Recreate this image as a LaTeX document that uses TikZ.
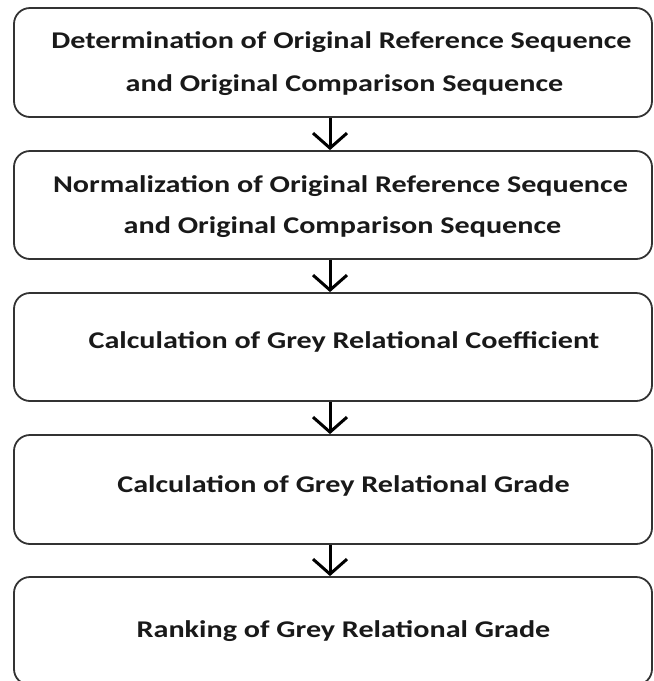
\documentclass[tikz,border=0pt]{standalone}
\usepackage{fontspec}
\setmainfont{Carlito}
\usetikzlibrary{arrows.meta}
\newcommand{\wide}[1]{\scalebox{1.256}[1]{#1}}
\begin{document}
\begin{tikzpicture}[x=1pt,y=-1pt,
  box/.style={draw=black!80, line width=1.8pt, rounded corners=16pt, minimum width=638pt, inner sep=0pt},
  lbl/.style={anchor=base, inner sep=0pt, font=\bfseries\fontsize{24}{28}\selectfont, text=black!90},
  arr/.style={draw=black, line width=3pt, -{Straight Barb[length=15pt,width=34pt,line width=3pt]}}]
\useasboundingbox (0,0) rectangle (654,681);
\node[box, minimum height=109pt] (b1) at (333,62.5) {};
\node[box, minimum height=108pt] (b2) at (333,205) {};
\node[box, minimum height=108pt] (b3) at (333,347) {};
\node[box, minimum height=109pt] (b4) at (333,489.5) {};
\node[box, minimum height=108pt] (b5) at (333,631) {};
\node[lbl] (t1a) at (341.5,48) {\wide{Determination of Original Reference Sequence}};
\node[lbl] (t1b) at (344.5,91) {\wide{and Original Comparison Sequence}};
\node[lbl] (t2a) at (340.5,192) {\wide{Normalization of Original Reference Sequence}};
\node[lbl] (t2b) at (342.5,233) {\wide{and Original Comparison Sequence}};
\node[lbl] (t3) at (344,348) {\wide{Calculation of Grey Relational Coefficient}};
\node[lbl] (t4) at (343.5,492) {\wide{Calculation of Grey Relational Grade}};
\node[lbl] (t5) at (343.5,637) {\wide{Ranking of Grey Relational Grade}};
\draw[arr] ([xshift=-3pt]b1.south) -- ([xshift=-3pt]b2.north);
\draw[arr] ([xshift=-3pt]b2.south) -- ([xshift=-3pt]b3.north);
\draw[arr] ([xshift=-3pt]b3.south) -- ([xshift=-3pt]b4.north);
\draw[arr] ([xshift=-3pt]b4.south) -- ([xshift=-3pt]b5.north);
\end{tikzpicture}
\end{document}
